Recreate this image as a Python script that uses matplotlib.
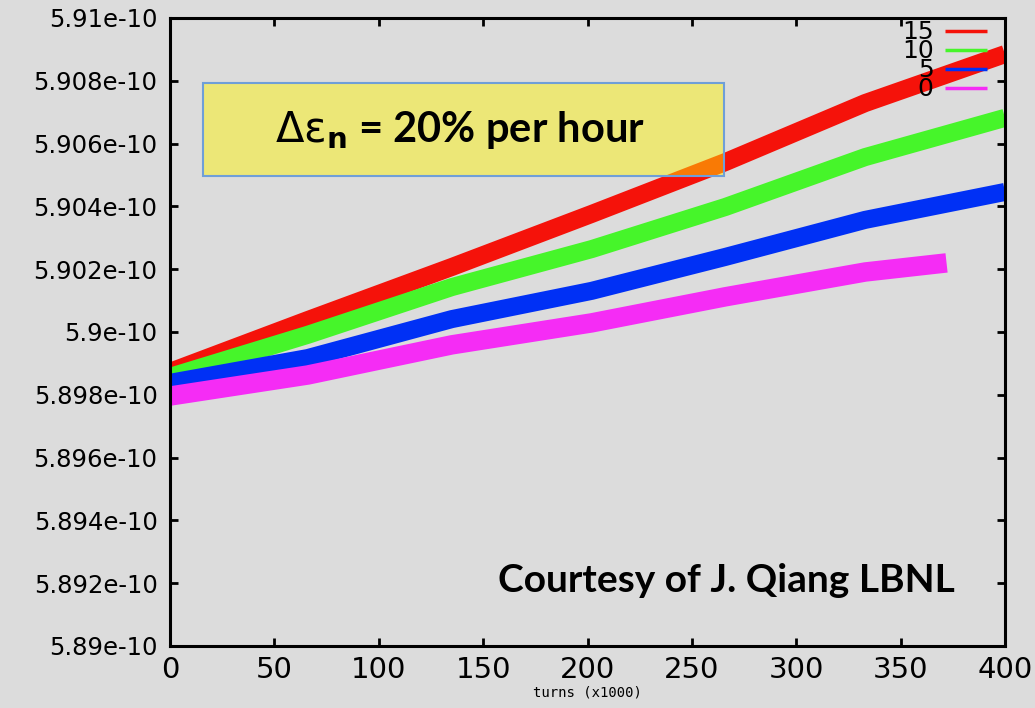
import numpy as np
import matplotlib
matplotlib.use('Agg')
import matplotlib.pyplot as plt
from matplotlib.ticker import FuncFormatter
from matplotlib.patches import Rectangle

# turns (x1000) and emittance (x1e-10)
turns = [0, 66, 135, 202, 266, 333, 400]
emit_15 = [5.89873, 5.90038, 5.90207, 5.90376, 5.90541, 5.90729, 5.90885]
emit_10 = [5.89857, 5.89991, 5.90143, 5.90264, 5.90398, 5.90557, 5.90682]
emit_5 = [5.89838, 5.89917, 5.90041, 5.90131, 5.90239, 5.90357, 5.90446]
turns_0 = [0, 66, 135, 202, 266, 333, 372]
emit_0 = [5.89796, 5.89863, 5.89959, 5.90029, 5.90112, 5.90191, 5.90220]

labels = ['15', '10', '5', '0']
colors = ['#f5120a', '#46f52a', '#0030f5', '#f52cf5']
widths = [13, 13, 13, 14]

bg = '#dcdcdc'
fig = plt.figure(figsize=(10.35, 7.08), dpi=100, facecolor=bg)
ax = fig.add_axes([0.1643, 0.0876, 0.8067, 0.887], facecolor=bg)

series = [(turns, emit_15), (turns, emit_10), (turns, emit_5), (turns_0, emit_0)]
lines = []
for (x, y), lab, c, w in zip(series, labels, colors, widths):
    ln, = ax.plot(x, np.array(y) * 1e-10, color=c, lw=w, solid_capstyle='butt',
                  solid_joinstyle='round', label=lab, zorder=2)
    lines.append(ln)

ax.set_xlim(0, 400)
ax.set_ylim(5.89e-10, 5.91e-10)
ax.set_xticks(np.arange(0, 401, 50))
ax.set_yticks(np.linspace(5.89e-10, 5.91e-10, 11))
ax.yaxis.set_major_formatter(FuncFormatter(lambda v, p: '%g' % v))

for s in ax.spines.values():
    s.set_linewidth(2.2)
ax.tick_params(direction='in', length=5.5, width=2, top=True, right=True)
ax.tick_params(axis='y', labelsize=17.5, pad=9)
ax.tick_params(axis='x', labelsize=21, pad=7)

ax.set_xlabel('turns (x1000)', family='DejaVu Sans Mono', fontsize=10, labelpad=1)

leg = ax.legend(handles=lines, loc='upper right', bbox_to_anchor=(0.982, 1.0),
                markerfirst=False, frameon=False, handlelength=1.7,
                labelspacing=-0.2, borderaxespad=0, borderpad=0.1,
                handletextpad=0.45, prop={'family': 'DejaVu Sans', 'size': 18})
for h in leg.legend_handles:
    h.set_linewidth(2.5)
for t in leg.get_texts():
    t.set_ha('right')

# semi-transparent annotation box
box = Rectangle((0.04, 0.749), 0.624, 0.147, transform=ax.transAxes,
                facecolor='#fff600', alpha=0.46, edgecolor='none', zorder=3)
ax.add_patch(box)
edge = Rectangle((0.04, 0.749), 0.624, 0.147, transform=ax.transAxes,
                 facecolor='none', edgecolor='#6f9fd8', lw=1.5, zorder=4)
ax.add_patch(edge)
ax.text(0.347, 0.822, r'$\mathrm{\Delta\varepsilon}_\mathbf{n}$ = 20% per hour',
        transform=ax.transAxes, ha='center', va='center', fontsize=30,
        family='Lato', fontweight='bold', zorder=5)

ax.text(0.940, 0.105, 'Courtesy of J. Qiang LBNL', transform=ax.transAxes,
        ha='right', va='center', fontsize=28, family='Lato', fontweight='bold')

fig.savefig('out.png', dpi=100, facecolor=bg)
